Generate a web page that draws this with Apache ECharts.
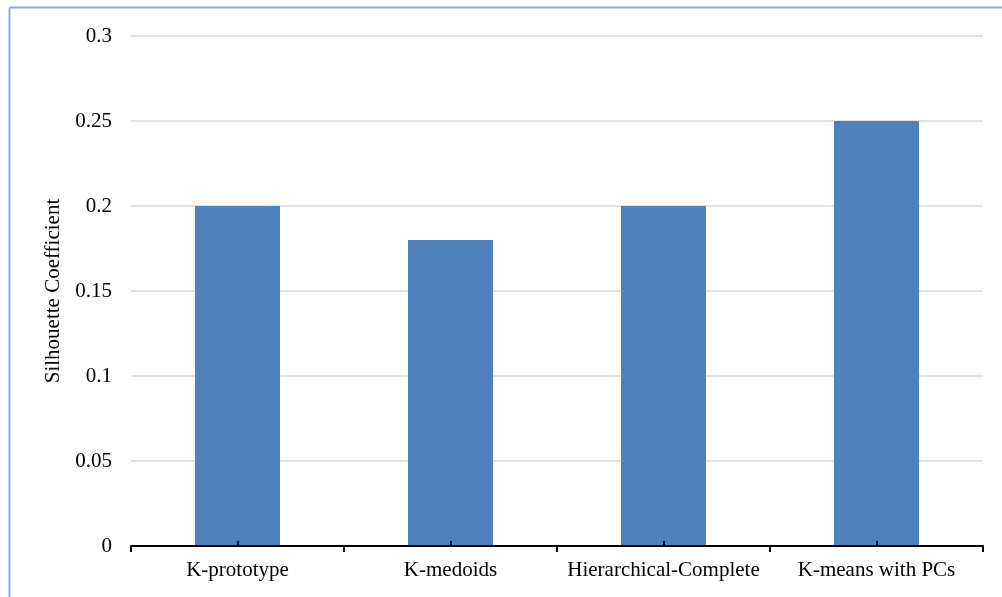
<!DOCTYPE html>
<html><head><meta charset="utf-8">
<script src="https://cdn.jsdelivr.net/npm/echarts@6/dist/echarts.min.js"></script>
<style>html,body{margin:0;padding:0;background:#fff}#c{width:1002px;height:597px}</style>
</head><body><div id="c"></div>
<script>
var categories = ['K-prototype', 'K-medoids', 'Hierarchical-Complete', 'K-means with PCs'];
var values = [0.2, 0.18, 0.2, 0.25];
var yTitle = 'Silhouette Coefficient';
var font = '"Liberation Serif", "Times New Roman", serif';
var chart = echarts.init(document.getElementById('c'));
chart.setOption({
  animation: false,
  backgroundColor: '#fff',
  graphic: [
    {type: 'line', shape: {x1: 9.5, y1: 7.5, x2: 1002, y2: 7.5}, style: {stroke: '#8EA9DB', lineWidth: 2}},
    {type: 'line', shape: {x1: 9.5, y1: 7.5, x2: 9.5, y2: 597}, style: {stroke: '#8EA9DB', lineWidth: 2}}
  ],
  grid: {left: 131, right: 19, top: 36, bottom: 51, containLabel: false},
  xAxis: [{
    type: 'category', data: categories, z: 10,
    axisLine: {lineStyle: {color: '#000', width: 2}},
    axisTick: {show: true, interval: 0, length: 6, lineStyle: {color: '#000', width: 2}},
    axisLabel: {interval: 0, color: '#000', fontFamily: font, fontSize: 21, margin: 14}
  }, {
    type: 'category', data: categories, position: 'bottom', z: 10,
    axisLine: {show: false},
    axisTick: {show: true, interval: 0, alignWithLabel: true, inside: true, length: 5, lineStyle: {color: '#000', width: 2}},
    axisLabel: {show: false}
  }],
  yAxis: {
    type: 'value', min: 0, max: 0.3, interval: 0.05,
    name: yTitle, nameLocation: 'middle', nameGap: 63,
    nameTextStyle: {color: '#000', fontFamily: font, fontSize: 21},
    axisLine: {show: false}, axisTick: {show: false},
    axisLabel: {color: '#000', fontFamily: font, fontSize: 21, margin: 19},
    splitLine: {lineStyle: {color: '#D9D9D9', width: 1.5}}
  },
  series: [{
    type: 'bar', data: values, barWidth: 85, xAxisIndex: 0,
    itemStyle: {color: '#4F81BD'}
  }]
});
</script></body></html>
